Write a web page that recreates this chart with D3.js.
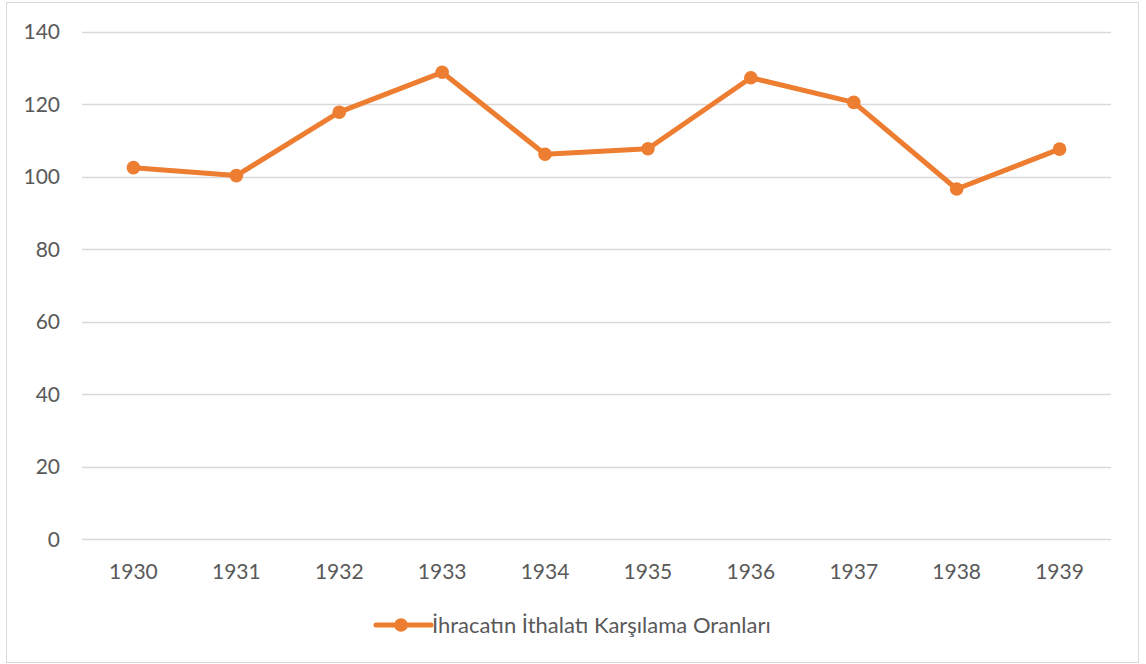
<!DOCTYPE html>
<html>
<head>
<meta charset="utf-8">
<script src="https://cdn.jsdelivr.net/npm/d3@7"></script>
<style>
  html, body { margin: 0; padding: 0; background: #fff; }
  svg { display: block; }
</style>
</head>
<body>
<svg id="chart" width="1146" height="664"></svg>
<script>
const years = ["1930","1931","1932","1933","1934","1935","1936","1937","1938","1939"];
const ratios = [102.5, 100.3, 117.8, 128.8, 106.2, 107.7, 127.3, 120.5, 96.6, 107.6];
const yTicks = [0, 20, 40, 60, 80, 100, 120, 140];
const seriesName = "İhracatın İthalatı Karşılama Oranları";

const color = "#ED7D31";
const textColor = "#595959";
const font = "Lato, 'Open Sans', sans-serif";
const fs = 21;

const svg = d3.select("#chart");
svg.append("rect").attr("x", 6.5).attr("y", 2.5).attr("width", 1132).attr("height", 660)
  .attr("fill", "#fff").attr("stroke", "#d9d9d9").attr("stroke-width", 1);

const plotLeft = 82, plotRight = 1111, plotTop = 31.7, plotBottom = 539.2;
const x = d3.scaleBand().domain(years).range([plotLeft, plotRight]);
const y = d3.scaleLinear().domain([0, 140]).range([plotBottom, plotTop]);

// gridlines
svg.append("g").selectAll("line").data(yTicks).join("line")
  .attr("x1", plotLeft).attr("x2", plotRight)
  .attr("y1", d => Math.round(y(d)) + 0.5).attr("y2", d => Math.round(y(d)) + 0.5)
  .attr("stroke", "#d9d9d9").attr("stroke-width", 1.3);

// y labels
svg.append("g").selectAll("text").data(yTicks).join("text")
  .attr("x", 60).attr("y", d => y(d)).attr("dy", "0.35em")
  .attr("text-anchor", "end").attr("font-family", font).attr("font-size", fs)
  .attr("fill", textColor).text(d => d);

// x labels
svg.append("g").selectAll("text").data(years).join("text")
  .attr("x", d => x(d) + x.bandwidth() / 2).attr("y", 572).attr("dy", "0.35em")
  .attr("text-anchor", "middle").attr("font-family", font).attr("font-size", fs)
  .attr("fill", textColor).text(d => d);

const pts = years.map((yr, i) => ({ yr, v: ratios[i] }));
const line = d3.line().x(d => x(d.yr) + x.bandwidth() / 2).y(d => y(d.v));
svg.append("path").datum(pts).attr("d", line).attr("fill", "none")
  .attr("stroke", color).attr("stroke-width", 5).attr("stroke-linejoin", "round");
svg.append("g").selectAll("circle").data(pts).join("circle")
  .attr("cx", d => x(d.yr) + x.bandwidth() / 2).attr("cy", d => y(d.v))
  .attr("r", 6.8).attr("fill", color);

// legend
const lg = svg.append("g");
lg.append("line").attr("x1", 376).attr("x2", 431).attr("y1", 625).attr("y2", 625)
  .attr("stroke", color).attr("stroke-width", 5).attr("stroke-linecap", "round");
lg.append("circle").attr("cx", 401).attr("cy", 625).attr("r", 6.8).attr("fill", color);
lg.append("text").attr("x", 432).attr("y", 625).attr("dy", "0.35em")
  .attr("font-family", font).attr("font-size", 22).attr("fill", textColor).text(seriesName);
</script>
</body>
</html>
